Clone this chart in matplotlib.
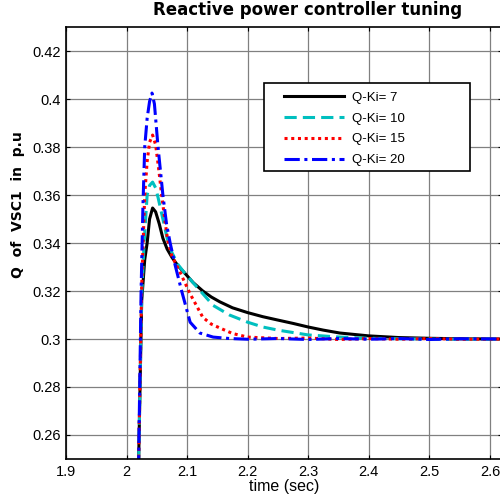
import matplotlib.pyplot as plt
from matplotlib.patches import Rectangle

plt.rcParams['font.family'] = ['Liberation Sans', 'DejaVu Sans']

# time (s) and Q (p.u.) for each Ki setting
t_ki7 = [2.018, 2.020, 2.025, 2.030, 2.034, 2.038, 2.043, 2.048, 2.054, 2.060,
         2.067, 2.075, 2.085, 2.096, 2.110, 2.126, 2.140, 2.154, 2.175, 2.200,
         2.225, 2.248, 2.275, 2.300, 2.325, 2.352, 2.400, 2.450, 2.500, 2.550, 2.620]
q_ki7 = [0.22, 0.250, 0.316, 0.333, 0.340, 0.350, 0.3546, 0.353, 0.348, 0.342,
         0.3375, 0.334, 0.3305, 0.3275, 0.3235, 0.320, 0.3175, 0.3155, 0.313, 0.311,
         0.3093, 0.308, 0.3065, 0.305, 0.3037, 0.3025, 0.3013, 0.3006, 0.3003, 0.3001, 0.3000]

t_ki10 = [2.018, 2.020, 2.025, 2.029, 2.034, 2.038, 2.043, 2.048, 2.052, 2.060,
          2.067, 2.075, 2.085, 2.096, 2.116, 2.143, 2.170, 2.200, 2.225, 2.250,
          2.300, 2.352, 2.400, 2.450, 2.520, 2.620]
q_ki10 = [0.22, 0.250, 0.318, 0.340, 0.360, 0.364, 0.3654, 0.363, 0.359, 0.350,
          0.342, 0.336, 0.331, 0.3275, 0.3217, 0.314, 0.310, 0.307, 0.305, 0.3037,
          0.3017, 0.3008, 0.3003, 0.3001, 0.2999, 0.3000]

t_ki15 = [2.018, 2.020, 2.025, 2.030, 2.034, 2.038, 2.043, 2.048, 2.053, 2.058,
          2.063, 2.068, 2.075, 2.088, 2.105, 2.126, 2.140, 2.154, 2.175, 2.200,
          2.250, 2.300, 2.350, 2.400, 2.450, 2.500, 2.550, 2.620]
q_ki15 = [0.22, 0.250, 0.322, 0.360, 0.374, 0.382, 0.385, 0.381, 0.371, 0.360,
          0.350, 0.341, 0.3345, 0.328, 0.3188, 0.309, 0.3062, 0.3046, 0.3023, 0.3008,
          0.3002, 0.3004, 0.2998, 0.3002, 0.2999, 0.3002, 0.2999, 0.3000]

t_ki20 = [2.018, 2.020, 2.024, 2.027, 2.030, 2.034, 2.038, 2.042, 2.046, 2.052,
          2.060, 2.066, 2.072, 2.080, 2.091, 2.105, 2.121, 2.143, 2.170, 2.200,
          2.250, 2.300, 2.350, 2.400, 2.450, 2.500, 2.550, 2.620]
q_ki20 = [0.22, 0.250, 0.320, 0.355, 0.380, 0.392, 0.399, 0.4025, 0.398, 0.380,
          0.360, 0.348, 0.340, 0.331, 0.320, 0.307, 0.3025, 0.3008, 0.3002, 0.2999,
          0.3002, 0.2998, 0.3002, 0.2999, 0.3002, 0.2998, 0.3001, 0.3000]

fig = plt.figure(figsize=(5, 4.97), dpi=100)
ax = fig.add_axes([0.132, 0.0765, 0.872, 0.869])

ax.plot(t_ki7, q_ki7, color='black', lw=2.2, ls='-', label='Q-Ki= 7')
ax.plot(t_ki10, q_ki10, color='#00bfbf', lw=2.2, ls=(0, (4, 2)), label='Q-Ki= 10')
ax.plot(t_ki15, q_ki15, color='red', lw=2.2, ls=(0, (1, 1.2)), label='Q-Ki= 15')
ax.plot(t_ki20, q_ki20, color='blue', lw=2.2, ls=(0, (5, 1.5, 1, 1.5)), label='Q-Ki= 20')

ax.set_xlim(1.9, 2.62)
ax.set_ylim(0.25, 0.43)
ax.set_xticks([1.9, 2.0, 2.1, 2.2, 2.3, 2.4, 2.5, 2.6])
ax.set_xticklabels(['1.9', '2', '2.1', '2.2', '2.3', '2.4', '2.5', '2.6'])
ax.set_yticks([0.26, 0.28, 0.3, 0.32, 0.34, 0.36, 0.38, 0.4, 0.42])
ax.set_yticklabels(['0.26', '0.28', '0.3', '0.32', '0.34', '0.36', '0.38', '0.4', '0.42'])
ax.tick_params(direction='in', top=True, right=True, labelsize=10.5, length=3, pad=4)
ax.grid(True, color='#808080', lw=0.9)
for s in ax.spines.values():
    s.set_linewidth(1.2)

ax.set_xlabel('time (sec)', fontsize=11.5, labelpad=0)
ax.set_ylabel('Q  of  VSC1  in  p.u', fontsize=10, fontweight='bold',
              family='DejaVu Sans')
ax.yaxis.set_label_coords(-0.095, 0.588)
fig.text(308 / 500, 1 - 10 / 497, 'Reactive power controller tuning',
         ha='center', va='center', fontsize=12, fontweight='bold',
         family='DejaVu Sans')

# legend box drawn separately so it keeps the wide right margin
ax.add_patch(Rectangle((0.454, 0.667), 0.473, 0.203, transform=ax.transAxes,
                       facecolor='white', edgecolor='black', lw=1.2, zorder=4))
leg = ax.legend(loc='upper left', bbox_to_anchor=(0.484, 0.866), fontsize=9.5,
                handlelength=4.55, labelspacing=0.65, borderpad=0,
                handletextpad=0.6, frameon=False)
leg.set_zorder(5)

plt.savefig('out.png', dpi=100)
